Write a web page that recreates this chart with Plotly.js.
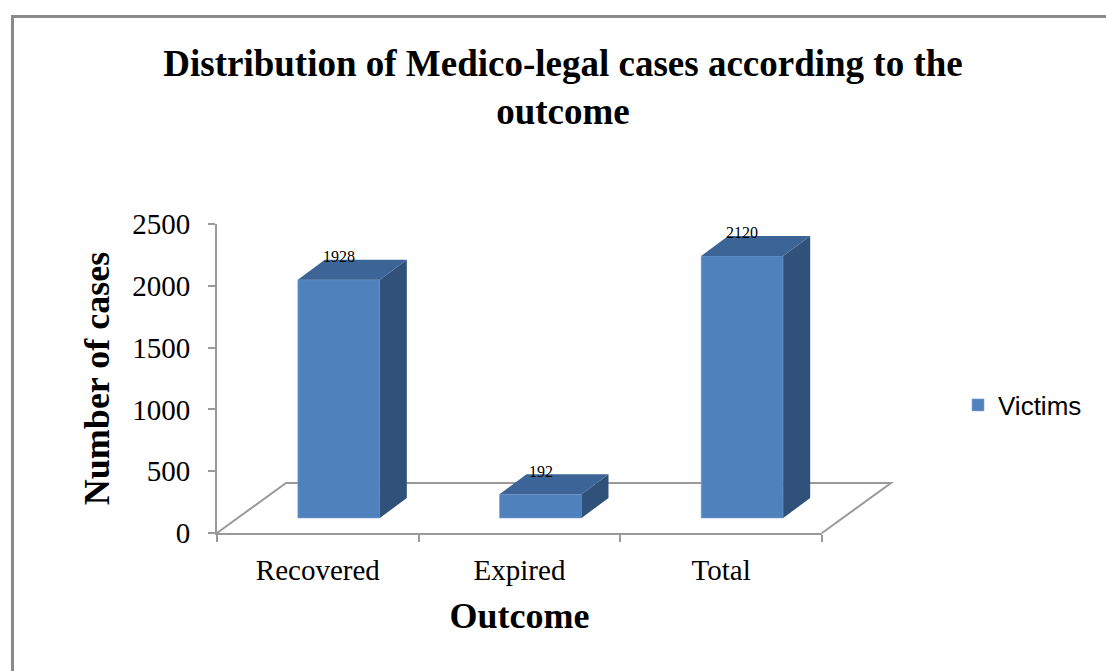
<!DOCTYPE html>
<html>
<head>
<meta charset="utf-8">
<script src="https://cdn.plot.ly/plotly-3.0.1.min.js"></script>
<style>
  html, body { margin: 0; padding: 0; background: #fff; }
  #wrap { position: relative; width: 1106px; height: 671px; overflow: hidden; }
  #chart { position: absolute; left: 0; top: 0; width: 1106px; height: 671px; }
  #frame { position: absolute; left: 11px; top: 15px; width: 1200px; height: 800px;
           border-top: 3px solid #8a8a8a; border-left: 3px solid #8a8a8a; pointer-events: none; }
</style>
</head>
<body>
<div id="wrap">
  <div id="chart"></div>
  <div id="frame"></div>
</div>
<script>
// ---- data ----
const categories = ["Recovered", "Expired", "Total"];
const victims = [1928, 192, 2120];
const seriesName = "Victims";
const yTicks = [0, 500, 1000, 1500, 2000, 2500];

// ---- geometry (pixels) ----
const L = 217, R = 822, T = 224, B = 533, W = 1106, H = 671;
const xMin = -0.5, xMax = categories.length - 0.5;
const yMin = 0, yMax = 2500;
const pxPerX = (R - L) / (xMax - xMin);
const pxPerY = (B - T) / (yMax - yMin);
// bar placement depth in floor (front face offset)
const barOffX = 21 / pxPerX, barOffY = 15 / pxPerY;
// bar depth extrusion
const depX = 27 / pxPerX, depY = 20 / pxPerY;
const barW = 82 / pxPerX;

const xs = categories.map((c, i) => i);

const colFront = "#4F81BD", colTop = "#3C6496", colSide = "#30517A";

const traces = [];
xs.forEach((x, i) => {
  const v = victims[i];
  const xr = x + barW / 2;
  const xl = x - barW / 2;
  // side face
  traces.push({
    type: "scatter", mode: "lines", xaxis: "x2", yaxis: "y2",
    x: [xr, xr, xr + depX, xr + depX, xr],
    y: [0, v, v + depY, depY, 0],
    fill: "toself", fillcolor: colSide, line: { width: 0, color: colSide },
    hoverinfo: "skip", showlegend: false
  });
  // top face
  traces.push({
    type: "scatter", mode: "lines", xaxis: "x2", yaxis: "y2",
    x: [xl, xr, xr + depX, xl + depX, xl],
    y: [v, v, v + depY, v + depY, v],
    fill: "toself", fillcolor: colTop, line: { width: 0, color: colTop },
    hoverinfo: "skip", showlegend: false
  });
});
// front faces
traces.push({
  type: "bar", name: seriesName, xaxis: "x2", yaxis: "y2",
  x: xs, y: victims, width: barW,
  marker: { color: colFront, line: { width: 0.6, color: "#7fa3d3" } },
  showlegend: true
});
// invisible anchor trace on main axes
traces.push({
  type: "scatter", mode: "markers", x: xs, y: victims.map(() => null),
  showlegend: false, hoverinfo: "skip"
});

// floor (paper coordinates)
const fdx = 69 / (R - L), fdy = 50 / (B - T);
const floorColor = "#9a9a9a";
const shapes = [
  { type: "path", xref: "paper", yref: "paper", layer: "below",
    path: `M 0 0 L ${fdx} ${fdy} L ${1 + fdx} ${fdy} L 1 0`,
    line: { color: floorColor, width: 2 } }
];

const annotations = xs.map((x, i) => ({
  xref: "x2", yref: "y2", x: x, y: victims[i] + depY,
  text: String(victims[i]), showarrow: false, yanchor: "middle", yshift: 3,
  font: { family: "Liberation Serif, Times New Roman, serif", size: 16, color: "#000" }
}));

const serif = "Liberation Serif, Times New Roman, serif";
const layout = {
  width: W, height: H,
  margin: { l: L, r: W - R, t: T, b: H - B, pad: 0 },
  paper_bgcolor: "#fff", plot_bgcolor: "rgba(0,0,0,0)",
  title: {
    text: "<b>Distribution of Medico-legal cases according to the<br>outcome</b>",
    font: { family: serif, size: 37, color: "#000" },
    xref: "container", yref: "container", x: 563 / W, xanchor: "center",
    y: 1 - 76 / H, yanchor: "top"
  },
  showlegend: true,
  legend: {
    x: (958 - L) / (R - L), xanchor: "left", y: (B - 405) / (B - T), yanchor: "middle",
    font: { family: "Liberation Sans, Arial, sans-serif", size: 26, color: "#000" },
    bgcolor: "rgba(0,0,0,0)"
  },
  xaxis: {
    range: [xMin, xMax], tickmode: "array", tickvals: xs, ticktext: categories,
    ticks: "", showgrid: false, zeroline: false,
    showline: true, linecolor: floorColor, linewidth: 2,
    minor: { tickmode: "array", tickvals: [-0.5, 0.5, 1.5, 2.5], ticks: "outside",
             ticklen: 7, tickwidth: 2, tickcolor: floorColor, showgrid: false },
    tickfont: { family: serif, size: 29, color: "#000" },
    ticklabelstandoff: 10,
    title: { text: "<b>Outcome</b>", font: { family: serif, size: 36, color: "#000" }, standoff: 18 },
    fixedrange: true
  },
  yaxis: {
    range: [yMin, yMax], tickmode: "array", tickvals: yTicks,
    ticks: "outside", ticklen: 7, tickwidth: 2, tickcolor: floorColor,
    showline: true, linecolor: floorColor, linewidth: 2,
    showgrid: false, zeroline: false,
    tickfont: { family: serif, size: 29, color: "#000" },
    ticklabelstandoff: 12,
    title: { text: "<b>Number of cases</b>", font: { family: serif, size: 36, color: "#000" }, standoff: 12 },
    fixedrange: true
  },
  xaxis2: { overlaying: "x", range: [xMin - barOffX, xMax - barOffX], visible: false, fixedrange: true },
  yaxis2: { overlaying: "y", range: [yMin - barOffY, yMax - barOffY], visible: false, fixedrange: true },
  shapes: shapes,
  annotations: annotations,
  bargap: 0
};

Plotly.newPlot("chart", traces, layout, { displayModeBar: false, staticPlot: true });
</script>
</body>
</html>
